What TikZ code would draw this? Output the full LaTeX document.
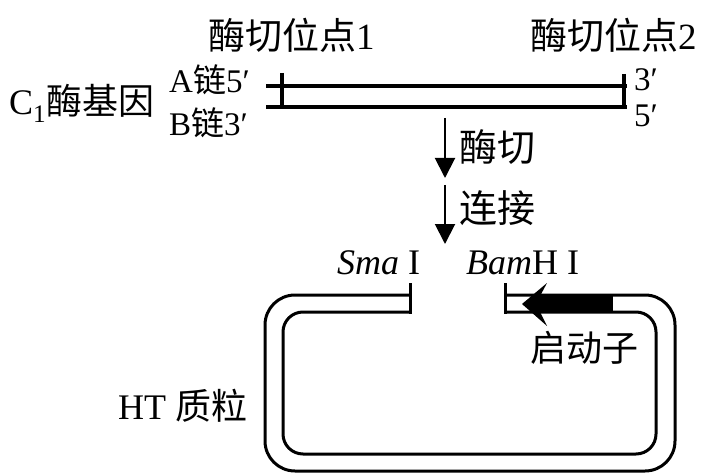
\documentclass[tikz,border=0pt]{standalone}
\usepackage{fontspec}
\setmainfont{Liberation Serif}
\newfontfamily\cjk{Noto Sans CJK SC}
\usetikzlibrary{arrows.meta}
\begin{document}
\begin{tikzpicture}[x=1pt,y=-1pt,
  lbl/.style={inner sep=0pt,anchor=west},
  fs/.style={font=\fontsize{#1}{#1}\selectfont},
  dna/.style={line width=3.4pt},
  pl/.style={line width=3pt,rounded corners=#1},
  arr/.style={line width=2pt,-{Triangle[width=20pt,length=20pt]}}]
\useasboundingbox (0,0) rectangle (701,473);
% labels top
\node[lbl,fs=37] (site1) at (208,35) {{\cjk 酶切位点}1};
\node[lbl,fs=37] (site2) at (530,35) {{\cjk 酶切位点}2};
\node[lbl,fs=36] (gene) at (9,103) {C\textsubscript{1}{\cjk 酶基因}};
\node[lbl,fs=33] (chA) at (169,80) {A{\cjk 链}5′};
\node[lbl,fs=33] (chB) at (169,123) {B{\cjk 链}3′};
\node[lbl,fs=33] (r3) at (634,80) {3′};
\node[lbl,fs=33] (r5) at (634,116) {5′};
% DNA
\coordinate (La) at (266,86); \coordinate (Ra) at (627,86);
\coordinate (Lb) at (266,107); \coordinate (Rb) at (627,107);
\draw[dna] (La) -- (Ra);
\draw[dna] (Lb) -- (Rb);
\coordinate (t1a) at (282,73); \coordinate (t1b) at (282,108);
\coordinate (t2a) at (624,74); \coordinate (t2b) at (624,108);
\draw[dna] (t1a) -- (t1b);
\draw[dna] (t2a) -- (t2b);
% arrows
\coordinate (a1s) at (445,118); \coordinate (a1e) at (445,178);
\coordinate (a2s) at (445,185); \coordinate (a2e) at (445,244);
\draw[arr] (a1s) -- (a1e);
\draw[arr] (a2s) -- (a2e);
\node[lbl,fs=38] (cut) at (459,147) {\cjk 酶切};
\node[lbl,fs=38] (lig) at (459,208) {\cjk 连接};
% enzymes
\node[lbl,fs=36] (sma) at (337,263) {\textit{Sma} I};
\node[lbl,fs=36] (bam) at (466,263) {\textit{Bam}H I};
% plasmid
\coordinate (o1) at (410,295); \coordinate (o2) at (265,295); \coordinate (o3) at (265,471);
\coordinate (o4) at (675,471); \coordinate (o5) at (675,295); \coordinate (o6) at (505,295);
\draw[pl=30pt] (o1) -- (o2) -- (o3) -- (o4) -- (o5) -- (o6);
\coordinate (i1) at (410,312); \coordinate (i2) at (283,312); \coordinate (i3) at (283,454);
\coordinate (i4) at (656,454); \coordinate (i5) at (656,312); \coordinate (i6) at (505,312);
\draw[pl=20pt] (i1) -- (i2) -- (i3) -- (i4) -- (i5) -- (i6);
\coordinate (k1a) at (410,283); \coordinate (k1b) at (410,313.5);
\coordinate (k2a) at (505,283); \coordinate (k2b) at (505,313.5);
\draw[line width=3pt] (k1a) -- (k1b);
\draw[line width=3pt] (k2a) -- (k2b);
% promoter
\fill (538,295) rectangle (613,313);
\fill (522,304) -- (547,283) -- (539,298) -- (539,310) -- (547,326) -- cycle;
\node[lbl,fs=36] (prom) at (530,348) {\cjk 启动子};
\node[lbl,fs=36] (ht) at (118,406) {HT {\cjk 质粒}};
\end{tikzpicture}
\end{document}
